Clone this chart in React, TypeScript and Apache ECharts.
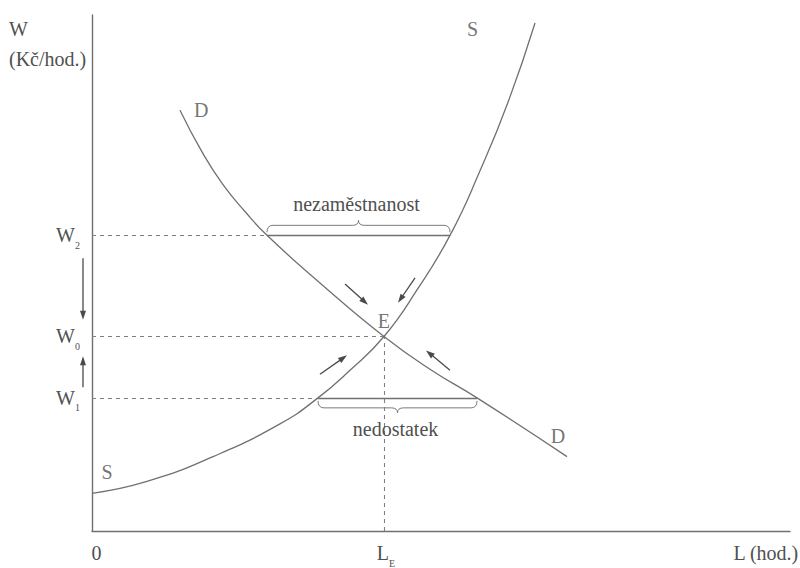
import React, { useEffect, useRef } from "react";
import * as echarts from "echarts";

// ---- data (in chart units: L 0..100, W 0..100) ----
const demandL = [12.61, 15.76, 18.77, 21.92, 25.07, 32.66, 41.83, 48.42, 55.16, 68.05];
const demandW = [81.54, 73.46, 67.12, 61.92, 57.3, 48.08, 37.7, 31.35, 25.8, 14.42];
const supplyL = [0, 7.88, 17.34, 26.93, 32.38, 36.96, 41.83, 46.56, 51.29, 55.59, 59.6, 63.47];
const supplyW = [7.31, 9.62, 14.42, 20.77, 25.8, 31.15, 37.7, 46.73, 57.3, 69.81, 83.08, 98.46];

const wageLevels = [25.8, 37.7, 57.3]; // W1, W0, W2
const wageSubs = ["1", "0", "2"];
const equilibriumL = 41.83;
const equilibriumW = 37.7;

// [L from, L to, wage, side]  side -1 = brace above, 1 = brace below
const surplusRange = [25.07, 51.29, 57.3, -1];
const shortageRange = [32.38, 55.16, 25.8, 1];
const gapLabels = ["nezaměstnanost", "nedostatek"];

// arrows: [L1, W1, L2, W2]
const arrowUL = [36.25, 47.88, 39.54, 43.85];
const arrowUR = [46.28, 49.04, 43.84, 44.23];
const arrowLL = [32.66, 30.38, 36.53, 34.04];
const arrowLR = [51.29, 31.15, 47.85, 35.0];
const arrowDown = [-1.29, 52.88, -1.29, 40.96];
const arrowUp = [-1.29, 27.88, -1.29, 33.85];

const xTickValues = [0, equilibriumL];

const FONT = "'Liberation Serif', 'DejaVu Serif', 'Times New Roman', serif";
const FS = 20;
const LINE = "#707070";
const TEXT = "#505050";
const ARROW = "#4a4a4a";

export default function App() {
  const ref = useRef<HTMLDivElement>(null);

  useEffect(() => {
    if (!ref.current) return;
    const chart = echarts.init(ref.current, undefined, { renderer: "svg" });

    const textBase = { fontFamily: FONT, color: TEXT, fontSize: FS };
    const rich = {
      w: { ...textBase, lineHeight: 30 },
      z: { ...textBase, lineHeight: 30, padding: [0, 0, 0, 9] },
      l: { ...textBase, lineHeight: 30, padding: [0, 0, 0, 4] },
      s: { fontFamily: FONT, color: TEXT, fontSize: 10, verticalAlign: "bottom" },
    };

    const demandData = demandL.map((x, i) => [x, demandW[i]]);
    const supplyData = supplyL.map((x, i) => [x, supplyW[i]]);
    const nD = demandL.length - 1;
    const nS = supplyL.length - 1;

    const labelBase = { show: true, fontFamily: FONT, color: TEXT, fontSize: FS };

    const option: any = {
      animation: false,
      backgroundColor: "#ffffff",
      grid: { left: 92, right: 10, top: 15, bottom: 33 },
      xAxis: {
        type: "value",
        min: 0,
        max: 100,
        axisLine: { show: true, onZero: false, lineStyle: { color: LINE, width: 1.4 } },
        axisTick: { show: false },
        splitLine: { show: false },
        axisLabel: {
          customValues: xTickValues,
          margin: 7,
          formatter: (v: number) => (v === 0 ? "{z|0}" : "{l|L}{s|E}"),
          rich,
        },
      },
      yAxis: {
        type: "value",
        min: 0,
        max: 100,
        axisLine: { show: true, onZero: false, lineStyle: { color: LINE, width: 1.4 } },
        axisTick: { show: false },
        splitLine: { show: false },
        axisLabel: {
          customValues: wageLevels,
          margin: 12,
          formatter: (v: number) => {
            const i = wageLevels.indexOf(v);
            return "{w|W}{s|" + (i >= 0 ? wageSubs[i] : "") + "}";
          },
          rich,
        },
      },
      series: [
        {
          type: "line",
          name: "D",
          data: demandData,
          smooth: 0.5,
          symbol: "none",
          lineStyle: { color: LINE, width: 1.3 },
          z: 3,
        },
        {
          type: "line",
          name: "S",
          data: supplyData,
          smooth: 0.5,
          symbol: "none",
          lineStyle: { color: LINE, width: 1.3 },
          z: 3,
        },
        {
          type: "lines",
          coordinateSystem: "cartesian2d",
          silent: true,
          lineStyle: { color: "#808080", width: 1.1, type: [4, 4], opacity: 1 },
          data: [
            { coords: [[0, wageLevels[2]], [surplusRange[0], wageLevels[2]]] },
            { coords: [[0, wageLevels[1]], [equilibriumL, wageLevels[1]]] },
            { coords: [[0, wageLevels[0]], [shortageRange[0], wageLevels[0]]] },
            { coords: [[equilibriumL, 0], [equilibriumL, equilibriumW]] },
          ],
          z: 2,
        },
        {
          type: "lines",
          coordinateSystem: "cartesian2d",
          silent: true,
          lineStyle: { color: LINE, width: 1.3, type: "solid", opacity: 1 },
          data: [
            { coords: [[surplusRange[0], surplusRange[2]], [surplusRange[1], surplusRange[2]]] },
            { coords: [[shortageRange[0], shortageRange[2]], [shortageRange[1], shortageRange[2]]] },
          ],
          z: 2,
        },
        {
          type: "custom",
          coordinateSystem: "cartesian2d",
          silent: true,
          encode: { x: [0, 1], y: 2 },
          data: [surplusRange, shortageRange],
          renderItem: (params: any, api: any) => {
            const x1 = api.value(0);
            const x2 = api.value(1);
            const y = api.value(2);
            const s = api.value(3);
            const p1 = api.coord([x1, y]);
            const p2 = api.coord([x2, y]);
            const yE = p1[1] + s * 3;
            const yB = p1[1] + s * 10;
            const yC = p1[1] + s * 15;
            const xa = p1[0];
            const xb = p2[0];
            const xm = (xa + xb) / 2;
            const r = 6;
            const d =
              `M${xa},${yE} Q${xa},${yB} ${xa + r},${yB} L${xm - r},${yB} ` +
              `Q${xm},${yB} ${xm},${yC} Q${xm},${yB} ${xm + r},${yB} ` +
              `L${xb - r},${yB} Q${xb},${yB} ${xb},${yE}`;
            return {
              type: "group",
              children: [
                {
                  type: "path",
                  shape: { pathData: d },
                  style: { fill: "none", stroke: "#7a7a7a", lineWidth: 1 },
                },
                {
                  type: "text",
                  x: xm - 2,
                  y: p1[1] + s * 31,
                  style: {
                    text: gapLabels[params.dataIndex],
                    fill: TEXT,
                    font: `${FS}px ${FONT}`,
                    align: "center",
                    verticalAlign: "middle",
                  },
                },
              ],
            };
          },
          z: 4,
        },
        {
          type: "custom",
          coordinateSystem: "cartesian2d",
          silent: true,
          clip: false,
          encode: { x: [0, 2], y: [1, 3] },
          data: [arrowUL, arrowUR, arrowLL, arrowLR, arrowDown, arrowUp],
          renderItem: (_params: any, api: any) => {
            const a = api.coord([api.value(0), api.value(1)]);
            const b = api.coord([api.value(2), api.value(3)]);
            const dx = b[0] - a[0];
            const dy = b[1] - a[1];
            const len = Math.sqrt(dx * dx + dy * dy) || 1;
            const ux = dx / len;
            const uy = dy / len;
            const nx = -uy;
            const ny = ux;
            const L = 9;
            const w = 3;
            const bx = b[0] - ux * L;
            const by = b[1] - uy * L;
            return {
              type: "group",
              children: [
                {
                  type: "line",
                  shape: { x1: a[0], y1: a[1], x2: bx + ux * 2, y2: by + uy * 2 },
                  style: { stroke: ARROW, lineWidth: 1.3 },
                },
                {
                  type: "polygon",
                  shape: {
                    points: [
                      [b[0], b[1]],
                      [bx + nx * w, by + ny * w],
                      [bx - nx * w, by - ny * w],
                    ],
                  },
                  style: { fill: ARROW },
                },
              ],
            };
          },
          z: 5,
        },
        {
          type: "scatter",
          silent: true,
          symbol: "circle",
          symbolSize: 2,
          itemStyle: { color: "rgba(0,0,0,0)" },
          data: [
            {
              value: demandData[0],
              label: { ...labelBase, formatter: "D", position: "right", distance: 13 },
            },
            {
              value: demandData[nD],
              label: { ...labelBase, formatter: "D", position: "top", distance: 10, offset: [-9, 0] },
            },
            {
              value: supplyData[0],
              label: { ...labelBase, formatter: "S", position: "top", distance: 10, offset: [15, 0] },
            },
            {
              value: supplyData[nS],
              label: { ...labelBase, formatter: "S", position: "left", distance: 56, offset: [0, 6] },
            },
            {
              value: [equilibriumL, equilibriumW],
              label: { ...labelBase, formatter: "E", position: "top", distance: 4 },
            },
          ],
          z: 6,
        },
      ],
      graphic: [
        {
          type: "text",
          left: 9,
          top: 14,
          style: {
            text: "W\n(Kč/hod.)",
            fill: TEXT,
            font: `${FS}px ${FONT}`,
            align: "center",
            lineHeight: 30,
          },
        },
        {
          type: "text",
          right: 1,
          top: 543,
          style: {
            text: "L (hod.)",
            fill: TEXT,
            font: `${FS}px ${FONT}`,
          },
        },
      ],
    };

    chart.setOption(option);
    return () => chart.dispose();
  }, []);

  return (
    <div
      ref={ref}
      style={{ position: "absolute", left: 0, top: 0, width: 800, height: 568, background: "#fff" }}
    />
  );
}
